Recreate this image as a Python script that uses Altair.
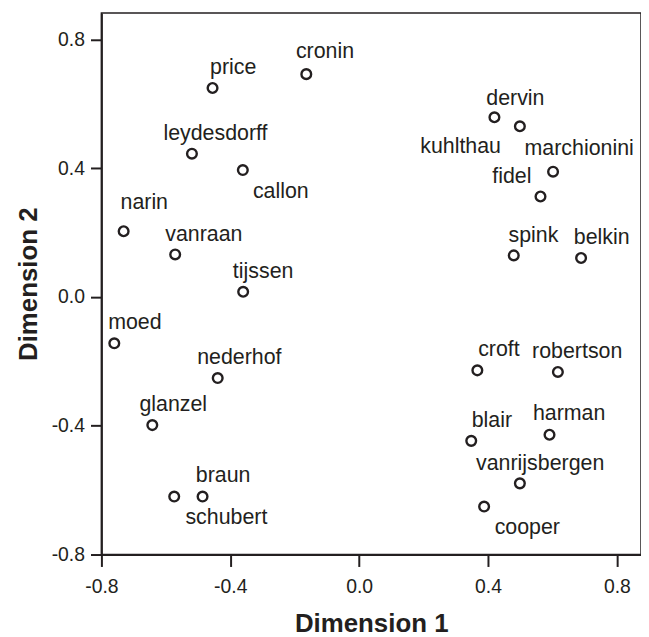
import altair as alt
import pandas as pd

names = ["cronin", "price", "leydesdorff", "callon", "narin", "vanraan", "tijssen",
         "moed", "nederhof", "glanzel", "braun", "schubert", "dervin", "kuhlthau",
         "marchionini", "fidel", "spink", "belkin", "croft", "robertson", "blair",
         "harman", "vanrijsbergen", "cooper"]
dim1 = [-0.164, -0.455, -0.519, -0.361, -0.731, -0.571, -0.360,
        -0.760, -0.439, -0.642, -0.574, -0.486, 0.420, 0.499,
        0.602, 0.563, 0.480, 0.689, 0.367, 0.617, 0.348,
        0.591, 0.499, 0.388]
dim2 = [0.692, 0.649, 0.445, 0.394, 0.204, 0.132, 0.016,
        -0.144, -0.252, -0.398, -0.620, -0.620, 0.558, 0.530,
        0.389, 0.312, 0.129, 0.121, -0.228, -0.233, -0.447,
        -0.428, -0.579, -0.651]
# label anchor positions (data units)
label_x = [-0.106, -0.391, -0.446, -0.243, -0.667, -0.482, -0.298,
           -0.696, -0.372, -0.577, -0.422, -0.412, 0.485, 0.315,
           0.683, 0.474, 0.541, 0.753, 0.434, 0.677, 0.412,
           0.652, 0.562, 0.522]
label_y = [0.762, 0.710, 0.507, 0.325, 0.293, 0.193, 0.078,
           -0.080, -0.190, -0.337, -0.557, -0.687, 0.616, 0.466,
           0.459, 0.371, 0.189, 0.184, -0.164, -0.171, -0.386,
           -0.365, -0.519, -0.717]
tick_values = [-0.8, -0.4, 0.0, 0.4, 0.8]

df = pd.DataFrame({"name": names, "d1": dim1, "d2": dim2, "lx": label_x, "ly": label_y})

INK = "#231f20"
FONT = "Liberation Sans"
label_expr = "replace(format(datum.value, '.1f'), '\u2212', '-')"

xscale = alt.Scale(domain=[-0.8, 0.875], nice=False, zero=False)
yscale = alt.Scale(domain=[-0.8, 0.882], nice=False, zero=False)

common = dict(values=tick_values, labelExpr=label_expr, grid=False,
              domainWidth=2, domainColor=INK, tickColor=INK, tickWidth=2,
              labelFont=FONT, labelFontSize=19.5, labelColor=INK,
              labelFlush=False, labelOverlap=False,
              titleFont=FONT, titleFontSize=26, titleFontWeight="bold",
              titleColor=INK)

xaxis = alt.Axis(title="Dimension 1", tickSize=12, labelPadding=11,
                 titleY=77, titleBaseline="alphabetic", titleAlign="center",
                 **common)
yaxis = alt.Axis(title="Dimension 2", tickSize=11, labelPadding=6,
                 titleX=-65, titleY=272.5, titleAngle=270,
                 titleBaseline="alphabetic", titleAlign="center", **common)

points = alt.Chart(df).mark_point(shape="circle", filled=False, size=95,
                                  strokeWidth=2.4, color=INK, opacity=1).encode(
    x=alt.X("d1:Q", scale=xscale, axis=xaxis),
    y=alt.Y("d2:Q", scale=yscale, axis=yaxis),
)

labels = alt.Chart(df).mark_text(font=FONT, fontSize=21.5, color=INK,
                                 align="center", baseline="middle").encode(
    x=alt.X("lx:Q", scale=xscale, axis=xaxis),
    y=alt.Y("ly:Q", scale=yscale, axis=yaxis),
    text="name:N",
)

chart = alt.layer(points, labels).properties(
    width=543, height=545,
    padding={"left": 94, "top": 3, "right": 0, "bottom": 80},
    autosize=alt.AutoSizeParams(type="none"),
).configure_view(stroke=INK, strokeWidth=1.5)

chart.save("out.html", embed_options={"renderer": "svg", "actions": False})
